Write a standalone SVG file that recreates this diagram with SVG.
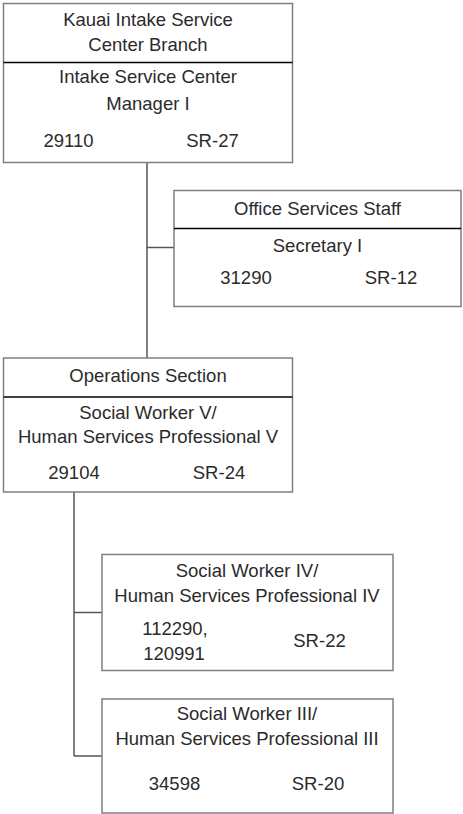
<svg xmlns="http://www.w3.org/2000/svg" width="463" height="814" viewBox="0 0 463 814">
<style>
.box{fill:#fff;stroke:#7f7f7f;stroke-width:1.5}
.div{stroke:#000;stroke-width:1.5}
.conn{stroke:#555;stroke-width:1.5;fill:none}
text{font-family:"Liberation Sans",Arial,sans-serif;font-size:18.5px;fill:#2b2b2b;text-anchor:middle}
</style>
<rect width="463" height="814" fill="#fff"/>
<g id="connectors">
<line class="conn" x1="147" y1="162" x2="147" y2="358"/>
<line class="conn" x1="147" y1="247.5" x2="174" y2="247.5"/>
<line class="conn" x1="74" y1="492" x2="74" y2="756"/>
<line class="conn" x1="74" y1="612.5" x2="102" y2="612.5"/>
<line class="conn" x1="74" y1="756" x2="102" y2="756"/>
</g>
<g id="kauai-branch">
<rect class="box" x="3.5" y="3.5" width="289" height="159"/>
<line class="div" x1="3.5" y1="62.5" x2="292.5" y2="62.5"/>
<text x="148" y="26">Kauai Intake Service</text>
<text x="148" y="51">Center Branch</text>
<text x="148" y="83">Intake Service Center</text>
<text x="148" y="110">Manager I</text>
<text x="68.5" y="147">29110</text>
<text x="212.5" y="147">SR-27</text>
</g>
<g id="office-services">
<rect class="box" x="174" y="190.5" width="287" height="116"/>
<line class="div" x1="174" y1="228.5" x2="461" y2="228.5"/>
<text x="317.5" y="215">Office Services Staff</text>
<text x="317.5" y="251.5">Secretary I</text>
<text x="246" y="283.5">31290</text>
<text x="391" y="283.5">SR-12</text>
</g>
<g id="operations">
<rect class="box" x="3.5" y="358" width="289" height="134"/>
<line class="div" x1="3.5" y1="397" x2="292.5" y2="397"/>
<text x="148" y="382">Operations Section</text>
<text x="148" y="418.5">Social Worker V/</text>
<text x="148" y="442.5">Human Services Professional V</text>
<text x="74" y="478.5">29104</text>
<text x="219" y="478.5">SR-24</text>
</g>
<g id="sw4">
<rect class="box" x="102" y="554.5" width="291" height="116"/>
<text x="247" y="577">Social Worker IV/</text>
<text x="247" y="602">Human Services Professional IV</text>
<text x="175" y="635">112290,</text>
<text x="174" y="660">120991</text>
<text x="319.5" y="647">SR-22</text>
</g>
<g id="sw3">
<rect class="box" x="102" y="699" width="291" height="114"/>
<text x="247" y="720">Social Worker III/</text>
<text x="247" y="745">Human Services Professional III</text>
<text x="174.5" y="790">34598</text>
<text x="318" y="790">SR-20</text>
</g>
</svg>
